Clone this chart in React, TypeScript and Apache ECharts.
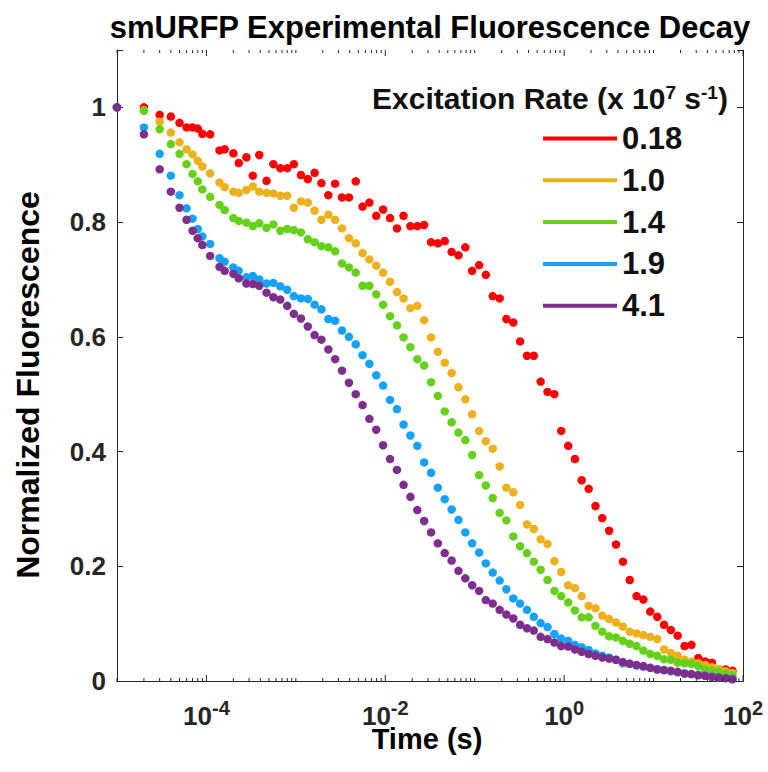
import React, { useEffect, useRef } from 'react';
import * as echarts from 'echarts';

// Time points (s), shared by all series
const times = [
  1e-5, 2e-5, 3e-5, 4e-5, 5e-5, 6e-5, 7e-5, 8e-5, 9e-5, 1.1e-4,
  1.4e-4, 1.6e-4, 2e-4, 2.3e-4, 2.8e-4, 3.3e-4, 3.9e-4, 4.7e-4, 5.6e-4, 6.7e-4,
  8e-4, 9.5e-4, 1.14e-3, 1.36e-3, 1.62e-3, 1.93e-3, 2.31e-3, 2.75e-3, 3.28e-3, 3.92e-3,
  4.67e-3, 5.57e-3, 6.64e-3, 7.92e-3, 9.45e-3, 1.13e-2, 1.35e-2, 1.6e-2, 1.91e-2, 2.28e-2,
  2.72e-2, 3.25e-2, 3.87e-2, 4.62e-2, 5.52e-2, 6.58e-2, 7.85e-2, 9.36e-2, 0.112, 0.133,
  0.159, 0.19, 0.226, 0.27, 0.322, 0.384, 0.458, 0.546, 0.652, 0.778,
  0.927, 1.11, 1.32, 1.57, 1.88, 2.24, 2.67, 3.18, 3.8, 4.54,
  5.41, 6.45, 7.69, 9.18, 11.0, 13.1, 15.6, 18.6, 22.2, 26.5,
  31.6, 37.7, 44.9, 53.6, 64.0, 76.2,
];

const seriesNames = ['0.18', '1.0', '1.4', '1.9', '4.1'];

const rate018 = [
  1.0, 1.0, 0.987, 0.984, 0.973, 0.965, 0.965, 0.963, 0.954, 0.953,
  0.925, 0.927, 0.92, 0.903, 0.913, 0.881, 0.917, 0.872, 0.901, 0.894,
  0.894, 0.901, 0.882, 0.875, 0.886, 0.868, 0.847, 0.867, 0.843, 0.843,
  0.871, 0.827, 0.834, 0.811, 0.822, 0.807, 0.789, 0.811, 0.793, 0.793,
  0.795, 0.765, 0.763, 0.767, 0.748, 0.742, 0.756, 0.715, 0.725, 0.708,
  0.671, 0.667, 0.631, 0.625, 0.592, 0.567, 0.567, 0.522, 0.504, 0.5,
  0.436, 0.41, 0.387, 0.35, 0.335, 0.305, 0.284, 0.262, 0.238, 0.208,
  0.176, 0.148, 0.142, 0.121, 0.112, 0.098, 0.089, 0.079, 0.061, 0.063,
  0.04, 0.034, 0.032, 0.02, 0.02, 0.018,
];

const rate10 = [
  1.0, 0.995, 0.975, 0.956, 0.939, 0.927, 0.918, 0.907, 0.897, 0.885,
  0.869, 0.861, 0.853, 0.851, 0.856, 0.862, 0.853, 0.851, 0.85, 0.846,
  0.846, 0.825, 0.836, 0.834, 0.82, 0.804, 0.813, 0.804, 0.789, 0.772,
  0.763, 0.746, 0.735, 0.724, 0.712, 0.696, 0.678, 0.667, 0.65, 0.654,
  0.629, 0.599, 0.574, 0.555, 0.537, 0.512, 0.491, 0.465, 0.436, 0.418,
  0.405, 0.374, 0.337, 0.329, 0.307, 0.273, 0.265, 0.247, 0.239, 0.209,
  0.19, 0.167, 0.162, 0.148, 0.131, 0.127, 0.114, 0.108, 0.102, 0.095,
  0.086, 0.083, 0.08, 0.077, 0.073, 0.055, 0.049, 0.044, 0.037, 0.034,
  0.031, 0.028, 0.024, 0.021, 0.017, 0.014,
];

const rate14 = [
  1.0, 0.994, 0.962, 0.936, 0.919, 0.901, 0.884, 0.871, 0.857, 0.844,
  0.83, 0.821, 0.807, 0.802, 0.799, 0.793, 0.798, 0.79, 0.796, 0.785,
  0.788, 0.786, 0.782, 0.77, 0.765, 0.758, 0.756, 0.749, 0.728, 0.721,
  0.712, 0.689, 0.689, 0.674, 0.656, 0.636, 0.62, 0.599, 0.582, 0.561,
  0.55, 0.521, 0.497, 0.47, 0.451, 0.433, 0.42, 0.394, 0.359, 0.341,
  0.319, 0.293, 0.28, 0.252, 0.235, 0.223, 0.208, 0.194, 0.176, 0.157,
  0.148, 0.137, 0.123, 0.111, 0.111, 0.096, 0.086, 0.078, 0.076, 0.07,
  0.065, 0.061, 0.053, 0.047, 0.044, 0.038, 0.037, 0.032, 0.031, 0.03,
  0.026, 0.02, 0.018, 0.016, 0.013, 0.01,
];

const rate19 = [
  1.0, 0.965, 0.919, 0.881, 0.847, 0.824, 0.806, 0.788, 0.775, 0.762,
  0.737, 0.731, 0.721, 0.715, 0.704, 0.706, 0.7, 0.693, 0.694, 0.688,
  0.682, 0.671, 0.667, 0.666, 0.656, 0.648, 0.631, 0.628, 0.611, 0.6,
  0.587, 0.568, 0.553, 0.533, 0.515, 0.49, 0.474, 0.447, 0.428, 0.41,
  0.381, 0.363, 0.337, 0.317, 0.299, 0.281, 0.259, 0.24, 0.224, 0.205,
  0.189, 0.175, 0.16, 0.144, 0.135, 0.124, 0.112, 0.101, 0.094, 0.082,
  0.074, 0.07, 0.063, 0.059, 0.054, 0.048, 0.044, 0.041, 0.037, 0.031,
  0.03, 0.027, 0.025, 0.023, 0.021, 0.019, 0.017, 0.015, 0.013, 0.012,
  0.011, 0.009, 0.008, 0.006, 0.005, 0.004,
];

const rate41 = [
  1.0, 0.953, 0.892, 0.853, 0.825, 0.804, 0.785, 0.772, 0.76, 0.741,
  0.722, 0.715, 0.71, 0.702, 0.693, 0.692, 0.689, 0.677, 0.669, 0.665,
  0.654, 0.64, 0.632, 0.618, 0.603, 0.595, 0.578, 0.561, 0.541, 0.52,
  0.5, 0.481, 0.457, 0.438, 0.411, 0.387, 0.368, 0.342, 0.321, 0.298,
  0.279, 0.259, 0.24, 0.223, 0.21, 0.192, 0.179, 0.167, 0.157, 0.141,
  0.135, 0.124, 0.116, 0.109, 0.098, 0.092, 0.088, 0.077, 0.073, 0.067,
  0.061, 0.06, 0.055, 0.051, 0.047, 0.044, 0.041, 0.039, 0.037, 0.033,
  0.03, 0.028, 0.026, 0.023, 0.02, 0.019, 0.018, 0.016, 0.013, 0.012,
  0.01, 0.009, 0.007, 0.006, 0.005, 0.003,
];

const seriesValues = [rate018, rate10, rate14, rate19, rate41];
const colors = ['#FF0000', '#EDB120', '#66D11A', '#17A2FA', '#7E2F8E'];

const FONT = '"Liberation Sans", Arial, Helvetica, sans-serif';
const AXIS_COLOR = '#262626';

export default function App() {
  const ref = useRef<HTMLDivElement>(null);

  useEffect(() => {
    document.body.style.margin = '0';
    if (!ref.current) return;
    const chart = echarts.init(ref.current, null, { renderer: 'svg' });

    // log-axis tick positions (values only; placement by the axis scale)
    const tickData: number[][] = [];
    for (let k = -5; k <= 2; k++) {
      const dec = Math.pow(10, k);
      tickData.push([dec, k % 2 === 0 ? 1 : 0]);
      if (k < 2) {
        for (let m = 2; m <= 9; m++) tickData.push([m * dec, 0]);
      }
    }

    const scatterSeries = seriesNames.map((name, si) => ({
      name,
      type: 'scatter',
      symbol: 'circle',
      symbolSize: 8.5,
      clip: false,
      itemStyle: { color: colors[si], opacity: 1 },
      data: times.map((t, i) => [t, seriesValues[si][i]]),
      z: 3 + si,
    }));

    const option: any = {
      animation: false,
      backgroundColor: '#ffffff',
      textStyle: { fontFamily: FONT },
      grid: { left: 117, right: 25, top: 50, bottom: 91, containLabel: false },
      xAxis: [
        {
          type: 'log',
          logBase: 10,
          min: 1e-5,
          max: 1e2,
          position: 'bottom',
          axisLine: { show: true, lineStyle: { color: AXIS_COLOR, width: 1 } },
          axisTick: { show: false },
          splitLine: { show: false },
          minorTick: { show: false },
          axisLabel: {
            show: true,
            margin: 17,
            color: AXIS_COLOR,
            formatter: (v: number) => {
              const e = Math.round(Math.log10(v));
              if (e % 2 !== 0) return '';
              return '{b|10}{s|' + String(e) + '}';
            },
            rich: {
              b: {
                fontSize: 26,
                fontWeight: 'bold',
                fontFamily: FONT,
                color: AXIS_COLOR,
                lineHeight: 31,
                verticalAlign: 'bottom',
              },
              s: {
                fontSize: 20,
                fontWeight: 'bold',
                fontFamily: FONT,
                color: AXIS_COLOR,
                lineHeight: 10,
                verticalAlign: 'top',
              },
            },
          },
        },
        {
          type: 'log',
          logBase: 10,
          min: 1e-5,
          max: 1e2,
          position: 'top',
          axisLine: { show: true, lineStyle: { color: AXIS_COLOR, width: 1 } },
          axisTick: { show: false },
          axisLabel: { show: false },
          splitLine: { show: false },
        },
      ],
      yAxis: [
        {
          type: 'value',
          min: 0,
          max: 1.1,
          interval: 0.2,
          position: 'left',
          axisLine: { show: true, lineStyle: { color: AXIS_COLOR, width: 1 } },
          axisTick: { show: true, inside: true, length: 6, lineStyle: { color: AXIS_COLOR } },
          splitLine: { show: false },
          axisLabel: {
            margin: 11,
            fontSize: 26,
            fontWeight: 'bold',
            fontFamily: FONT,
            color: AXIS_COLOR,
            formatter: (v: number) => {
              if (v > 1.05) return '';
              const r = Math.round(v * 10) / 10;
              if (r === 0) return '0';
              if (r === 1) return '1';
              return r.toFixed(1);
            },
          },
        },
        {
          type: 'value',
          min: 0,
          max: 1.1,
          interval: 0.2,
          position: 'right',
          axisLine: { show: true, lineStyle: { color: AXIS_COLOR, width: 1 } },
          axisTick: { show: true, inside: true, length: 6, lineStyle: { color: AXIS_COLOR } },
          splitLine: { show: false },
          axisLabel: { show: false },
        },
      ],
      legend: {
        data: seriesNames,
        orient: 'vertical',
        left: 543,
        top: 123,
        padding: 0,
        itemWidth: 74,
        itemHeight: 4,
        itemGap: 10.8,
        icon: 'rect',
        selectedMode: false,
        textStyle: {
          fontSize: 31,
          fontWeight: 'bold',
          fontFamily: FONT,
          color: '#111111',
          lineHeight: 31,
        },
      },
      graphic: [
        {
          type: 'text',
          x: 430,
          y: 27,
          style: {
            text: 'smURFP Experimental Fluorescence Decay',
            fontSize: 31,
            fontWeight: 'bold',
            fontFamily: FONT,
            fill: '#000000',
            align: 'center',
            verticalAlign: 'middle',
          },
        },
        {
          type: 'text',
          x: 427,
          y: 739,
          style: {
            text: 'Time (s)',
            fontSize: 29,
            lineHeight: 22,
            fontWeight: 'bold',
            fontFamily: FONT,
            fill: '#000000',
            align: 'center',
            verticalAlign: 'middle',
          },
        },
        {
          type: 'text',
          x: 28,
          y: 385,
          rotation: Math.PI / 2,
          style: {
            text: 'Normalized Fluorescence',
            fontSize: 32,
            fontWeight: 'bold',
            fontFamily: FONT,
            fill: '#000000',
            align: 'center',
            verticalAlign: 'middle',
          },
        },
        {
          type: 'text',
          x: 372,
          y: 98,
          style: {
            text: '{b|Excitation Rate (x 10}{s|7}{b| s}{s|-1}{b|)}',
            align: 'left',
            verticalAlign: 'middle',
            rich: {
              b: {
                fontSize: 30,
                fontWeight: 'bold',
                fontFamily: FONT,
                fill: '#111111',
                lineHeight: 30,
                verticalAlign: 'bottom',
              },
              s: {
                fontSize: 19,
                fontWeight: 'bold',
                fontFamily: FONT,
                fill: '#111111',
                lineHeight: 18,
                verticalAlign: 'top',
              },
            },
          },
        },
      ],
      series: [
        ...scatterSeries,
        {
          type: 'custom',
          name: 'xticks',
          silent: true,
          clip: false,
          xAxisIndex: 0,
          yAxisIndex: 0,
          z: 10,
          data: tickData,
          renderItem: (params: any, api: any) => {
            const v = api.value(0);
            const major = api.value(1) === 1;
            const len = major ? 6 : 3;
            const b = api.coord([v, 0]);
            const t = api.coord([v, 1.1]);
            return {
              type: 'group',
              children: [
                {
                  type: 'line',
                  shape: { x1: b[0], y1: b[1], x2: b[0], y2: b[1] - len },
                  style: { stroke: AXIS_COLOR, lineWidth: 1 },
                },
                {
                  type: 'line',
                  shape: { x1: t[0], y1: t[1], x2: t[0], y2: t[1] + len },
                  style: { stroke: AXIS_COLOR, lineWidth: 1 },
                },
              ],
            };
          },
        },
      ],
    };

    chart.setOption(option);
    return () => chart.dispose();
  }, []);

  return <div ref={ref} style={{ width: 768, height: 772 }} />;
}
